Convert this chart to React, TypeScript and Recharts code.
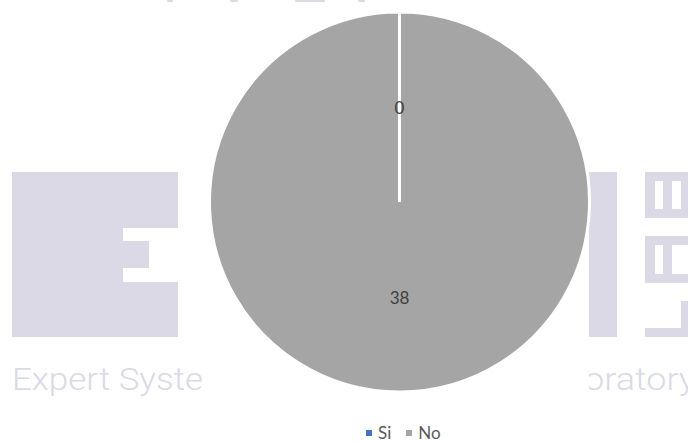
import React from 'react';
import { PieChart, Pie, Cell, Legend } from 'recharts';

const categories = ['Si', 'No'];
const values = [0, 38];
const colors = ['#4472C4', '#A5A5A5'];

const data = categories.map((name, i) => ({ name, value: values[i] }));

const WM = '#DAD9E5';
const RADIAN = Math.PI / 180;

const renderLabel = (props: any) => {
  const { cx, cy, midAngle, outerRadius, value } = props;
  const r = outerRadius * 0.5;
  const x = cx + r * Math.cos(-midAngle * RADIAN);
  const y = cy + r * Math.sin(-midAngle * RADIAN);
  return (
    <text
      x={x}
      y={y}
      fill="#404040"
      fontSize={17}
      fontFamily="Lato, 'Open Sans', sans-serif"
      textAnchor="middle"
      dominantBaseline="central"
    >
      {value}
    </text>
  );
};

const LegendContent = (props: any) => {
  const items = [...(props.payload || [])].sort(
    (a: any, b: any) => categories.indexOf(a.value) - categories.indexOf(b.value)
  );
  return (
    <div style={{ display: 'flex', justifyContent: 'flex-start', alignItems: 'center', paddingLeft: 366 }}>
      {items.map((p: any, i: number) => (
        <div key={i} style={{ display: 'flex', alignItems: 'center', marginRight: 15 }}>
          <span style={{ width: 6, height: 6, background: p.color, display: 'inline-block', marginRight: 6 }} />
          <span style={{ fontFamily: "Lato, 'Open Sans', sans-serif", fontSize: 17, color: '#595959' }}>{p.value}</span>
        </div>
      ))}
    </div>
  );
};

// background watermark (logo of the source document)
const Watermark = () => (
  <svg width={688} height={442} style={{ position: 'absolute', left: 0, top: 0 }}>
    <defs>
      <clipPath id="leftClip"><rect x={0} y={0} width={206} height={442} /></clipPath>
      <clipPath id="rightClip"><rect x={589} y={0} width={100} height={442} /></clipPath>
    </defs>
    {/* E */}
    <rect x={12} y={172} width={166} height={165} fill={WM} />
    <rect x={123} y={228} width={55} height={54} fill="#fff" />
    <rect x={123} y={241} width={26} height={27} fill={WM} />
    {/* bar */}
    <rect x={589} y={172} width={28} height={165} fill={WM} />
    {/* LAB rotated */}
    <rect x={645} y={172} width={43} height={46} fill={WM} />
    <rect x={655} y={181} width={8} height={28} fill="#fff" />
    <rect x={672} y={181} width={9} height={28} fill="#fff" />
    <rect x={645} y={236} width={43} height={47} fill={WM} />
    <rect x={655} y={245} width={8} height={29} fill="#fff" />
    <rect x={672} y={245} width={16} height={29} fill="#fff" />
    <rect x={645} y={328} width={43} height={9} fill={WM} />
    <rect x={681} y={301} width={7} height={36} fill={WM} />
    {/* top fragments */}
    <rect x={167} y={0} width={6} height={2} rx={1} fill={WM} />
    <rect x={230} y={0} width={8} height={2} rx={1} fill={WM} />
    <rect x={295} y={0} width={30} height={2} rx={1} fill={WM} />
    <rect x={358} y={0} width={7} height={2} rx={1} fill={WM} />
    <g clipPath="url(#leftClip)">
      <text x={12} y={390} fontSize={31} fontWeight={300} fontFamily="Roboto, sans-serif" fill={WM} textLength={191} lengthAdjust="spacingAndGlyphs">
        Expert Syste
      </text>
    </g>
    <g clipPath="url(#rightClip)">
      <text x={584} y={390} fontSize={31} fontWeight={300} fontFamily="Roboto, sans-serif" fill={WM} textLength={112} lengthAdjust="spacingAndGlyphs">
        oratory
      </text>
    </g>
  </svg>
);

export default function App() {
  return (
    <div style={{ position: 'absolute', left: 0, top: 0, width: 688, height: 442, background: '#fff', overflow: 'hidden' }}>
      <Watermark />
      <div style={{ position: 'absolute', left: 0, top: 0 }}>
        <PieChart width={688} height={442} margin={{ top: 0, right: 0, bottom: 0, left: 0 }}>
          <Pie
            data={data}
            dataKey="value"
            nameKey="name"
            cx={399.5}
            cy={202}
            outerRadius={190}
            startAngle={90}
            endAngle={-270}
            stroke="#fff"
            strokeWidth={3}
            label={renderLabel}
            labelLine={false}
            isAnimationActive={false}
          >
            {data.map((d, i) => (
              <Cell key={d.name} fill={colors[i]} />
            ))}
          </Pie>
          <Legend
            content={<LegendContent />}
            verticalAlign="bottom"
            wrapperStyle={{ position: 'absolute', top: 422, left: 0, width: 688, bottom: 'auto' }}
          />
        </PieChart>
      </div>
    </div>
  );
}
